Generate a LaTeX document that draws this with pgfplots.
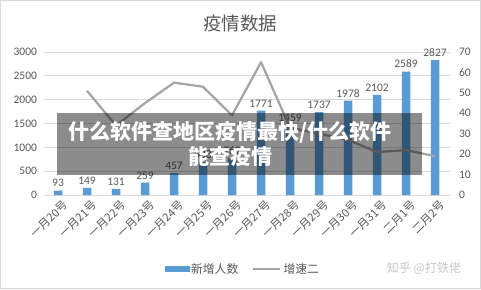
\documentclass[border=0pt]{standalone}
\usepackage{pgfplots}
\pgfplotsset{compat=1.18}
\usepackage{fontspec}
\setmainfont{Carlito}
\newfontfamily\cjk{Noto Sans CJK SC}
\definecolor{barblue}{HTML}{5B9BD5}
\definecolor{linegray}{HTML}{A5A5A5}
\definecolor{txtgray}{HTML}{595959}
\definecolor{gridgray}{HTML}{D9D9D9}
\pgfkeys{/pgf/number format/.cd, 1000 sep={}, assume math mode=true}
\begin{document}
\begin{tikzpicture}[x=1bp,y=1bp]
\useasboundingbox (0,0) rectangle (481,289);
\fill[white] (0,0) rectangle (481,289);
\draw[gridgray, line width=0.75bp] (0.5,0.5) rectangle (480.5,288.5);
\node[font=\cjk\fontsize{18.5bp}{20bp}\selectfont, text=txtgray] at (240,266) {疫情数据};
\begin{axis}[
  at={(43.5bp,94bp)}, anchor=south west, scale only axis,
  width=406bp, height=143bp,
  xmin=-0.5, xmax=13.5, ymin=0, ymax=3000,
  ytick={0,500,...,3000},
  xtick={0,...,13},
  xticklabels={一月20号,一月21号,一月22号,一月23号,一月24号,一月25号,一月26号,一月27号,一月28号,一月29号,一月30号,一月31号,二月1号,二月2号},
  ymajorgrids, grid style={gridgray, line width=0.75bp},
  axis x line*=bottom, axis y line*=left,
  y axis line style={draw=none},
  x axis line style={gridgray, line width=0.75bp},
  major tick length=0pt,
  yticklabel style={font=\fontsize{11.5bp}{13bp}\selectfont, text=txtgray, xshift=-3bp},
  xticklabel style={font=\cjk\fontsize{11.3bp}{12bp}\selectfont, text=txtgray, rotate=45, anchor=north east, inner sep=1bp, yshift=-5bp, xshift=1bp},
  nodes near coords,
  nodes near coords style={font=\fontsize{11.5bp}{13bp}\selectfont, text=txtgray},
]
\addplot[ybar, bar width=8.5bp, fill=barblue, draw=none] coordinates {
(0,93) (1,149) (2,131) (3,259) (4,457) (5,688) (6,769) (7,1771) (8,1459) (9,1737) (10,1978) (11,2102) (12,2589) (13,2827)};
\end{axis}
\begin{axis}[
  at={(43.5bp,94bp)}, anchor=south west, scale only axis,
  width=406bp, height=143bp,
  xmin=-0.5, xmax=13.5, ymin=0, ymax=70,
  ytick={0,10,...,70},
  axis x line=none, axis y line*=right,
  y axis line style={draw=none},
  major tick length=0pt,
  yticklabel style={font=\fontsize{11.5bp}{13bp}\selectfont, text=txtgray, xshift=6bp},
  legend style={at={(0.491,-0.517)}, anchor=center, draw=none, fill=none,
    legend columns=2, font=\cjk\fontsize{11.8bp}{13bp}\selectfont, text=txtgray,
    /tikz/every even column/.append style={column sep=12bp}},
]
\addlegendimage{legend image code/.code={\fill[barblue] (0bp,-2.5bp) rectangle (24bp,2.5bp);}}
\addlegendentry{新增人数}
\addplot[linegray, line width=2.25bp, line join=round,
  legend image code/.code={\draw[linegray, line width=2.25bp] (0bp,0bp) -- (27bp,0bp);}] coordinates {
(1,51) (2,34) (3,45) (4,55) (5,53) (6,39) (7,65) (8,33) (9,30) (10,27) (11,21) (12,22) (13,19)};
\addlegendentry{增速二}
\end{axis}
\fill[black, opacity=0.45] (57,114) rectangle (422,176);
\node[text=white, font=\cjk\bfseries\fontsize{21bp}{25bp}\selectfont, align=center] at (230,145) {什么软件查地区疫情最快/什么软件\\能查疫情};
\node[font=\cjk\fontsize{12bp}{14bp}\selectfont, text=black!22] at (424,21) {知乎 @打铁佬};
\end{tikzpicture}
\end{document}
